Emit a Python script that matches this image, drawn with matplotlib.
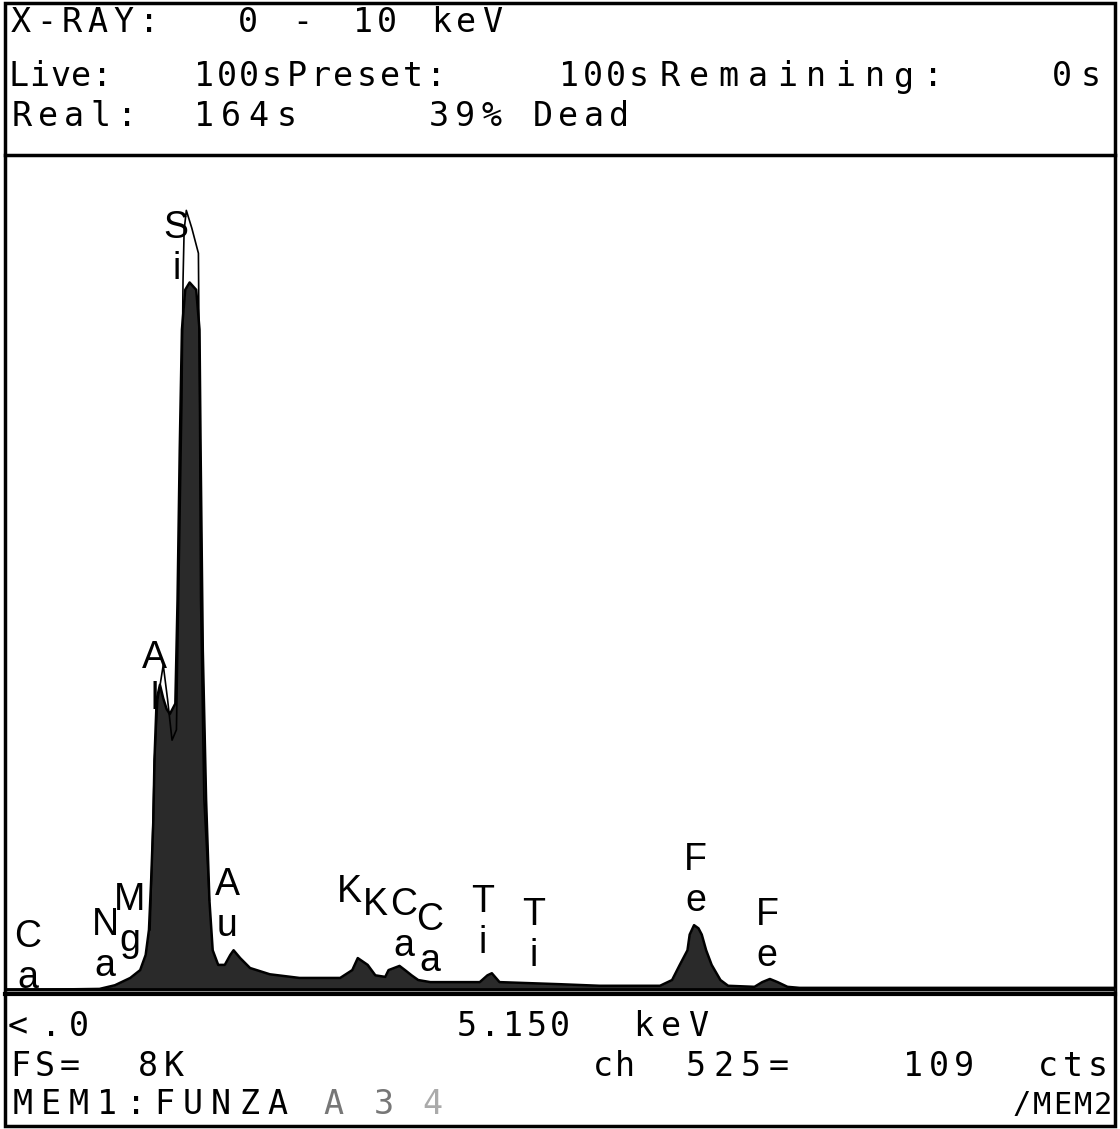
import matplotlib
matplotlib.use("Agg")
import matplotlib.pyplot as plt
from matplotlib.patches import Rectangle

# MEM1 trace (filled): energy in keV, counts
mem1_kev = [0.10, 0.60, 0.96, 1.10, 1.24, 1.33, 1.38, 1.41, 1.43, 1.45, 1.46, 1.48,
            1.51, 1.54, 1.57, 1.60, 1.65, 1.67, 1.69, 1.71, 1.74, 1.78, 1.84, 1.87,
            1.88, 1.90, 1.93, 1.96, 1.99, 2.04, 2.10, 2.15, 2.18, 2.24, 2.33, 2.51,
            2.78, 3.15, 3.26, 3.31, 3.40, 3.47, 3.56, 3.59, 3.69, 3.74, 3.80, 3.86,
            3.97, 4.42, 4.49, 4.53, 4.60, 5.15, 5.51, 6.06, 6.17, 6.24, 6.31, 6.33,
            6.37, 6.41, 6.44, 6.48, 6.53, 6.61, 6.68, 6.92, 6.99, 7.06, 7.13, 7.22,
            7.33, 10.20]
mem1_cts = [10, 15, 20, 55, 125, 200, 345, 585, 1060, 1640, 2210, 2790,
            2930, 2800, 2700, 2650, 2750, 3740, 5180, 6330, 6710, 6780, 6710, 6330,
            5180, 3260, 1830, 870, 390, 250, 250, 345, 390, 315, 220, 160,
            125, 125, 200, 315, 250, 150, 135, 200, 240, 200, 150, 105,
            85, 85, 150, 170, 85, 65, 50, 50, 105, 250, 390, 540,
            630, 600, 540, 390, 250, 105, 50, 40, 85, 115, 85, 40,
            30, 30]

# MEM2 overlay, only the part standing above MEM1 (Al / Si)
mem2_kev = [1.42, 1.44, 1.46, 1.49, 1.54, 1.58, 1.62, 1.66, 1.71, 1.72, 1.73,
            1.75, 1.80, 1.86, 1.87, 1.88, 1.91, 1.96]
mem2_cts = [585, 1350, 2210, 2785, 3120, 2785, 2400, 2500, 5655, 6800, 7280,
            7470, 7300, 7060, 5655, 3740, 1830, 870]

# peak markers
line_names = ["Ca", "Na", "Mg", "Al", "Si", "Au", "K", "K", "Ca", "Ca", "Ti", "Ti", "Fe", "Fe"]
line_kev = [0.34, 1.04, 1.25, 1.49, 1.74, 2.12, 3.31, 3.59, 3.69, 4.01, 4.51, 4.93, 6.40, 7.06]

# layout of the markers (pixel y of first letter, pixel x nudge)
label_y = [937, 925, 900, 658, 228, 885, 892, 905, 905, 920, 902, 915, 860, 915]
label_dx = [-4, -3, -2, -3, -9, 0, -8, -13, 4, -5, -7, -2, -2, -3]

W, H = 1120, 1129
fig = plt.figure(figsize=(W / 100, H / 100), dpi=100)

# pixel canvas for the frame and the display text
bg = fig.add_axes([0, 0, 1, 1])
bg.set_xlim(0, W)
bg.set_ylim(H, 0)
bg.axis("off")

bg.add_patch(Rectangle((5, 3), 1110, 1123, fill=False, lw=2.5, ec="black"))
bg.plot([5, 1115], [155, 155], color="black", lw=2.5)
bg.plot([5, 1115], [994, 994], color="black", lw=3)

mono = dict(family="DejaVu Sans Mono", fontsize=24, color="black")


def spread(s, x0, x1, y, **kw):
    # fixed-cell display text, chars spread evenly between x0 and x1
    step = (x1 - x0) / len(s)
    for i, ch in enumerate(s):
        bg.text(x0 + (i + 0.5) * step, y, ch, ha="center", va="center", **kw)


# header
spread("X-RAY:", 8, 162, 22, **mono)
spread("0", 238, 258, 22, **mono)
spread("-", 288, 316, 22, **mono)
spread("10", 352, 398, 22, **mono)
spread("keV", 428, 505, 22, **mono)

spread("Live:", 8, 112, 77, **mono)
spread("100s", 193, 283, 77, **mono)
spread("Preset:", 285, 448, 77, **mono)
spread("100s", 558, 650, 77, **mono)
spread("Remaining:", 655, 948, 77, **mono)
spread("0s", 1048, 1105, 77, **mono)

spread("Real:", 8, 140, 116, **mono)
spread("164s", 190, 300, 116, **mono)
spread("39%", 425, 505, 116, **mono)
spread("Dead", 530, 632, 116, **mono)

# footer
spread("<", 8, 28, 1027, **mono)
spread(".0", 38, 92, 1027, **mono)
spread("5.150", 455, 572, 1027, **mono)
spread("keV", 630, 712, 1027, **mono)

spread("FS=", 8, 82, 1066, **mono)
spread("8K", 135, 187, 1066, **mono)
spread("ch", 592, 636, 1066, **mono)
spread("525=", 682, 792, 1066, **mono)
spread("109", 900, 977, 1066, **mono)
spread("cts", 1035, 1110, 1066, **mono)

spread("MEM1:FUNZA", 8, 292, 1105, **mono)
faint = dict(mono, color="#777777")
spread("A", 320, 346, 1105, **faint)
spread("3", 372, 396, 1105, **faint)
spread("4", 422, 442, 1105, **dict(mono, color="#aaaaaa"))
spread("/MEM2", 1012, 1113, 1105, **dict(mono, fontsize=22))

# spectrum area: baseline at pixel 991, top at 155, 0-8K counts
x0_kev = (5 + 6) / 109.9
x1_kev = (1115 + 6) / 109.9
ax = fig.add_axes([5 / W, (H - 991) / H, 1110 / W, (991 - 155) / H])
ax.set_xlim(x0_kev, x1_kev)
ax.set_ylim(0, 8000)
ax.axis("off")
ax.patch.set_alpha(0)

ax.fill_between(mem1_kev, mem1_cts, 0, color="#2a2a2a", lw=0)
ax.plot(mem1_kev, mem1_cts, color="black", lw=1.8)
ax.plot(mem2_kev, mem2_cts, color="black", lw=1.2)
ax.plot([x0_kev, x1_kev], [20, 20], color="black", lw=2)

# element markers, two letters stacked
lab = dict(family="Liberation Sans", fontsize=27, color="black", ha="center", va="center")
for name, kev, y, dx in zip(line_names, line_kev, label_y, label_dx):
    xp = ax.transData.transform((kev, 0))[0]
    xpix = bg.transData.inverted().transform((xp, 0))[0] + dx
    bg.text(xpix, y, name[0], **lab)
    if len(name) > 1:
        bg.text(xpix, y + 41, name[1], **lab)

fig.savefig("out.png", dpi=100)
